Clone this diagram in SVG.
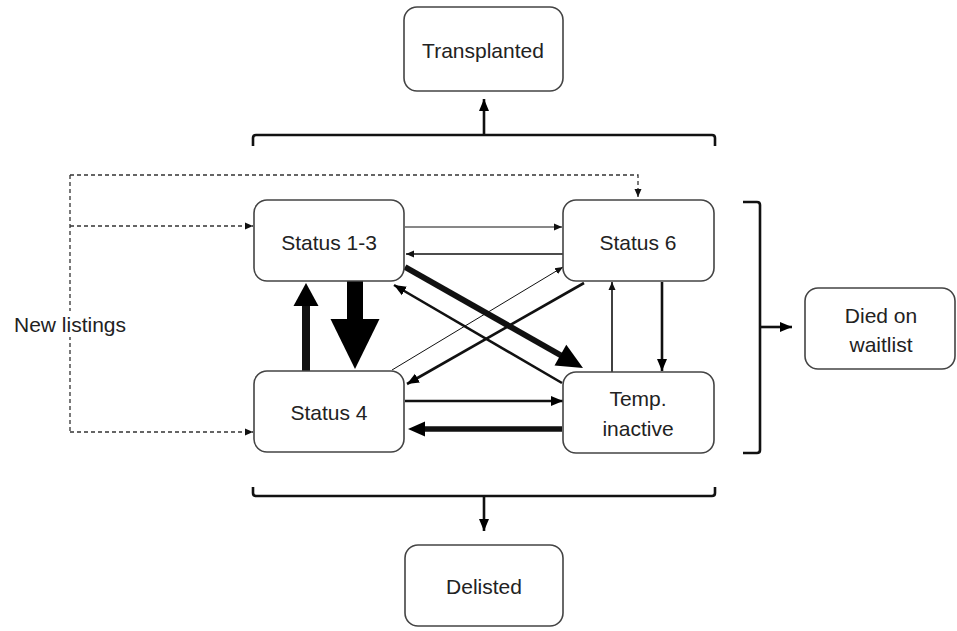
<svg xmlns="http://www.w3.org/2000/svg" width="957" height="631" viewBox="0 0 957 631">
<style>
.box{fill:#fff;stroke:#444;stroke-width:1.6}
.lbl{font-family:"Liberation Sans",Arial,sans-serif;font-size:21px;fill:#222;text-anchor:middle;dominant-baseline:central}
.c{fill:none;stroke:#111}
.dash{fill:none;stroke:#333;stroke-width:1.3;stroke-dasharray:4 3}
.brace{fill:none;stroke:#111;stroke-width:2.6}
.head{fill:#000}
</style>
<defs>
<marker id="aThin" markerUnits="userSpaceOnUse" markerWidth="9" markerHeight="8" refX="8" refY="4" orient="auto">
<path d="M0,0.5 L8,4 L0,7.5 z" fill="#111"/>
</marker>
<marker id="aMed" markerUnits="userSpaceOnUse" markerWidth="13" markerHeight="11" refX="12" refY="5.5" orient="auto">
<path d="M0,0.5 L12,5.5 L0,10.5 z" fill="#000"/>
</marker>
</defs>
<rect x="0" y="0" width="957" height="631" fill="#fff"/>

<g id="connectors">
<!-- dashed new listings -->
<path class="dash" d="M70,175 L638,175 L638,197" marker-end="url(#aThin)"/>
<path class="dash" d="M70,175 L70,432"/>
<path class="dash" d="M70,226 L253,226" marker-end="url(#aThin)"/>
<path class="dash" d="M70,432 L253,432" marker-end="url(#aThin)"/>
<!-- braces -->
<path class="brace" d="M253,146 L253,138 Q253,135 256,135 L712,135 Q715,135 715,138 L715,146"/>
<path class="c" stroke-width="2.6" d="M484,135 L484,99" marker-end="url(#aMed)"/>
<path class="brace" d="M253,487 L253,493 Q253,496 256,496 L712,496 Q715,496 715,493 L715,487"/>
<path class="c" stroke-width="2.6" d="M484,496 L484,531" marker-end="url(#aMed)"/>
<path class="brace" d="M743,202 L757,202 Q760,202 760,205 L760,450 Q760,453 757,453 L743,453"/>
<path class="c" stroke-width="2.6" d="M760,327 L792,327" marker-end="url(#aMed)"/>
<!-- status transitions -->
<path class="c" stroke="#666" stroke-width="1" d="M405,227 L562,227" marker-end="url(#aThin)"/>
<path class="c" stroke-width="1.6" d="M563,254 L406,254" marker-end="url(#aThin)"/>
<path class="c" stroke-width="6" d="M405,267 L562,356"/>
<polygon class="head" points="583,368 554.5,365.6 566.3,344.8"/>
<path class="c" stroke-width="2.6" d="M562,383 L394,285" marker-end="url(#aMed)"/>
<path class="c" stroke="#666" stroke-width="1" d="M392,370 L563,267" marker-end="url(#aThin)"/>
<path class="c" stroke-width="2.6" d="M584,283 L407,384" marker-end="url(#aMed)"/>
<path class="c" stroke-width="2.6" d="M405,401 L563,401" marker-end="url(#aMed)"/>
<path class="c" stroke-width="5.5" d="M562,429 L423,429"/>
<polygon class="head" points="408,429 425,421.5 425,436.5"/>
<path class="c" stroke-width="1.6" d="M612,372 L612,282" marker-end="url(#aThin)"/>
<path class="c" stroke-width="2.6" d="M662,282 L662,371" marker-end="url(#aMed)"/>
<path class="c" stroke-width="8" d="M306,371 L306,304"/>
<polygon class="head" points="306,283 293.5,306 318.5,306"/>
<rect class="head" x="347" y="281" width="16" height="39"/>
<polygon class="head" points="330.5,319 379.5,319 355,369"/>
</g>

<g id="new-listings">
<rect x="10" y="311" width="120" height="26" fill="#fff"/>
<text class="lbl" x="70" y="324">New listings</text>
</g>
<g id="transplanted">
<rect class="box" x="404" y="7" width="159" height="84" rx="13"/>
<text class="lbl" x="483" y="50">Transplanted</text>
</g>
<g id="status13">
<rect class="box" x="254" y="200" width="150" height="81" rx="13"/>
<text class="lbl" x="329" y="242">Status 1-3</text>
</g>
<g id="status6">
<rect class="box" x="563" y="200" width="151" height="81" rx="13"/>
<text class="lbl" x="638" y="242">Status 6</text>
</g>
<g id="status4">
<rect class="box" x="254" y="371" width="150" height="81" rx="13"/>
<text class="lbl" x="329" y="412">Status 4</text>
</g>
<g id="temp-inactive">
<rect class="box" x="563" y="372" width="151" height="81" rx="13"/>
<text class="lbl" x="638" y="398">Temp.</text>
<text class="lbl" x="638" y="428">inactive</text>
</g>
<g id="died">
<rect class="box" x="805" y="288" width="150" height="81" rx="13"/>
<text class="lbl" x="881" y="315">Died on</text>
<text class="lbl" x="881" y="344">waitlist</text>
</g>
<g id="delisted">
<rect class="box" x="405" y="545" width="158" height="81" rx="13"/>
<text class="lbl" x="484" y="586">Delisted</text>
</g>
</svg>
